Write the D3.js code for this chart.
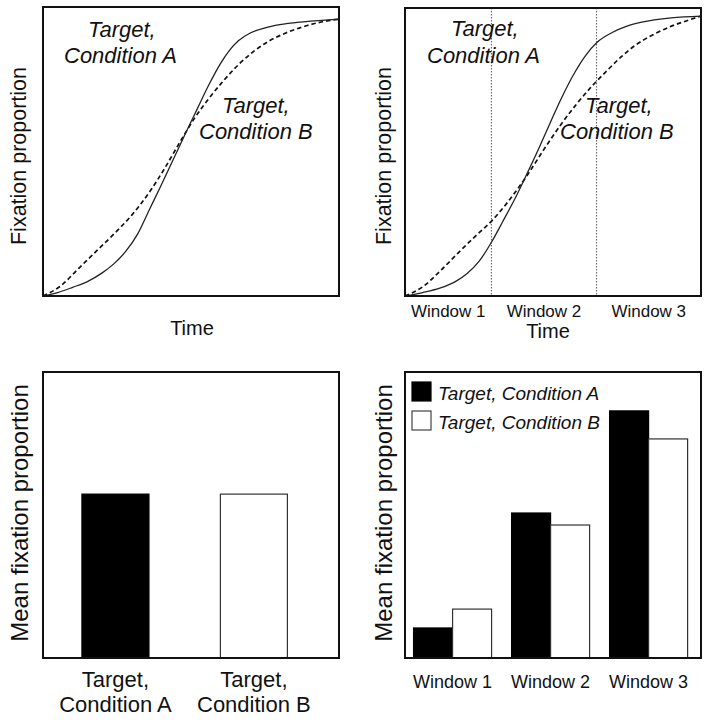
<!DOCTYPE html>
<html>
<head>
<meta charset="utf-8">
<script src="https://cdn.jsdelivr.net/npm/d3@7/dist/d3.min.js"></script>
<style>
  html, body { margin: 0; padding: 0; background: #fff; }
  svg { display: block; }
  text { font-family: "Liberation Sans", Arial, Helvetica, sans-serif; fill: #111; }
</style>
</head>
<body>
<svg id="chart" width="712" height="723"></svg>
<script>
// ---------- DATA ----------
// Top-left panel: fixation proportion over time (time 0..100, proportion 0..1)
const timeA_TL = [0, 5, 10, 15, 20, 24, 28, 32, 36, 40, 44, 48, 52, 56, 60, 63, 66, 70, 75, 80, 87, 93, 100];
const propA_TL = [0, .012, .03, .05, .08, .112, .155, .215, .3, .385, .472, .56, .645, .73, .805, .85, .883, .91, .928, .939, .948, .953, .958];
const timeB_TL = [0, 6, 12, 18, 24, 30, 36, 41, 46, 51, 56, 61, 66, 71, 76, 82, 88, 94, 100];
const propB_TL = [0, .035, .095, .155, .215, .28, .36, .44, .528, .612, .683, .745, .8, .845, .88, .91, .932, .948, .958];

// Top-right panel
const timeA_TR = [0, 6, 12, 17, 21, 25, 29.4, 33, 37, 41, 45, 49, 53, 57, 61, 65, 70, 75, 80, 90, 100];
const propA_TR = [0, .012, .028, .05, .078, .12, .19, .258, .335, .42, .508, .6, .69, .77, .835, .882, .915, .937, .951, .966, .972];
const timeB_TR = [0, 6, 12, 18, 24, 29.4, 35, 41, 47, 53, 58, 63, 68, 73, 78, 84, 90, 95, 100];
const propB_TR = [0, .032, .088, .15, .21, .262, .33, .415, .51, .6, .667, .727, .78, .83, .872, .908, .937, .955, .972];

const windowBounds = [0, 29.2, 64.7, 100];
const windowNames = ["Window 1", "Window 2", "Window 3"];

// Bottom-left panel: overall mean fixation proportion
const conditions = ["Target, Condition A", "Target, Condition B"];
const meanOverall = [0.573, 0.573];

// Bottom-right panel: mean fixation proportion per window
const meanA_windows = [0.105, 0.507, 0.864];
const meanB_windows = [0.171, 0.465, 0.766];

const labelA = ["Target,", "Condition A"];
const labelB = ["Target,", "Condition B"];
const xTitle = "Time";
const yTitleTop = "Fixation proportion";
const yTitleBottom = "Mean fixation proportion";

// ---------- DRAW ----------
const svg = d3.select("#chart");

function frame(x0, y0, x1, y1) {
  svg.append("rect")
    .attr("x", x0).attr("y", y0)
    .attr("width", x1 - x0).attr("height", y1 - y0)
    .attr("fill", "none").attr("stroke", "#111").attr("stroke-width", 2);
}

function yTitle(text, x, y, size) {
  svg.append("text")
    .attr("transform", `translate(${x},${y}) rotate(-90)`)
    .attr("text-anchor", "middle")
    .style("font-size", size + "px")
    .text(text);
}

function lineChart(opts) {
  const x = d3.scaleLinear().domain([0, 100]).range([opts.x0, opts.x1]);
  const y = d3.scaleLinear().domain([0, 1]).range([opts.y1, opts.y0]);
  const line = d3.line().x(d => x(d[0])).y(d => y(d[1])).curve(d3.curveMonotoneX);
  const g = svg.append("g");

  if (opts.windows) {
    g.selectAll("line.win").data(windowBounds.slice(1, -1)).join("line")
      .attr("x1", d => x(d)).attr("x2", d => x(d))
      .attr("y1", opts.y0).attr("y2", opts.y1)
      .attr("stroke", "#666").attr("stroke-width", 1.1)
      .attr("stroke-dasharray", "1.5,1.5");
  }

  g.append("path").datum(opts.tB.map((t, i) => [t, opts.pB[i]]))
    .attr("d", line).attr("fill", "none")
    .attr("stroke", "#111").attr("stroke-width", 1.7)
    .attr("stroke-dasharray", "4.5,3");
  g.append("path").datum(opts.tA.map((t, i) => [t, opts.pA[i]]))
    .attr("d", line).attr("fill", "none")
    .attr("stroke", "#222").attr("stroke-width", 1.3);

  frame(opts.x0, opts.y0, opts.x1, opts.y1);

  // annotations
  const ann = [
    [labelA[0], opts.annA[0], opts.annA[1]],
    [labelA[1], opts.annA[2], opts.annA[3]],
    [labelB[0], opts.annB[0], opts.annB[1]],
    [labelB[1], opts.annB[2], opts.annB[3]]
  ];
  g.selectAll("text.ann").data(ann).join("text")
    .attr("x", d => d[1]).attr("y", d => d[2])
    .style("font-size", "22px").style("font-style", "italic")
    .text(d => d[0]);

  if (opts.windows) {
    g.selectAll("text.wl").data(windowNames).join("text")
      .attr("x", (d, i) => x((windowBounds[i] + windowBounds[i + 1]) / 2))
      .attr("y", 317)
      .attr("text-anchor", "middle")
      .style("font-size", "17px")
      .text(d => d);
  }

  svg.append("text")
    .attr("x", (opts.x0 + opts.x1) / 2 + opts.timeDx)
    .attr("y", opts.timeY)
    .attr("text-anchor", "middle")
    .style("font-size", "20px")
    .text(xTitle);

  yTitle(yTitleTop, opts.yTitleX, 156, 21.5);
}

lineChart({
  x0: 43, x1: 339, y0: 7, y1: 296,
  tA: timeA_TL, pA: propA_TL, tB: timeB_TL, pB: propB_TL,
  annA: [88, 37, 64, 63], annB: [222, 113, 199, 139],
  windows: false, timeY: 335, timeDx: 1, yTitleX: 26
});

lineChart({
  x0: 405, x1: 701, y0: 8, y1: 296,
  tA: timeA_TR, pA: propA_TR, tB: timeB_TR, pB: propB_TR,
  annA: [451, 36, 427, 63], annB: [585, 113, 560, 139],
  windows: true, timeY: 338, timeDx: -5, yTitleX: 391
});

// ---------- Bottom-left bars ----------
{
  const x = d3.scaleBand().domain(conditions).range([43, 339])
    .paddingInner(0.516).paddingOuter(0.327).align(0.43);
  const y = d3.scaleLinear().domain([0, 1]).range([658, 372]);
  const data = conditions.map((c, i) => ({ c, v: meanOverall[i], i }));
  svg.append("g").selectAll("rect").data(data).join("rect")
    .attr("x", d => x(d.c)).attr("width", x.bandwidth())
    .attr("y", d => y(d.v)).attr("height", d => y(0) - y(d.v))
    .attr("fill", d => d.i === 0 ? "#000" : "#fff")
    .attr("stroke", d => d.i === 0 ? "#000" : "#333")
    .attr("stroke-width", 1.2);
  frame(43, 372, 339, 658);

  const lbls = [labelA, labelB];
  const tg = svg.append("g").selectAll("text").data(data).join("text")
    .attr("text-anchor", "middle")
    .style("font-size", "22px");
  tg.append("tspan").attr("x", d => x(d.c) + x.bandwidth() / 2).attr("y", 687)
    .text(d => lbls[d.i][0]);
  tg.append("tspan").attr("x", d => x(d.c) + x.bandwidth() / 2).attr("y", 712)
    .text(d => lbls[d.i][1]);

  yTitle(yTitleBottom, 28, 513, 24);
}

// ---------- Bottom-right grouped bars ----------
{
  const x0 = d3.scaleBand().domain(windowNames).range([405, 701])
    .paddingInner(0.204).paddingOuter(0.112).align(0.39);
  const x1 = d3.scaleBand().domain(conditions).range([0, x0.bandwidth()]);
  const y = d3.scaleLinear().domain([0, 1]).range([658, 372]);
  const rows = [];
  windowNames.forEach((w, i) => {
    rows.push({ w, c: conditions[0], v: meanA_windows[i], k: 0 });
    rows.push({ w, c: conditions[1], v: meanB_windows[i], k: 1 });
  });
  svg.append("g").selectAll("rect").data(rows).join("rect")
    .attr("x", d => x0(d.w) + x1(d.c)).attr("width", x1.bandwidth())
    .attr("y", d => y(d.v)).attr("height", d => y(0) - y(d.v))
    .attr("fill", d => d.k === 0 ? "#000" : "#fff")
    .attr("stroke", d => d.k === 0 ? "#000" : "#333")
    .attr("stroke-width", 1.2);
  frame(405, 372, 701, 658);

  svg.append("g").selectAll("text").data(windowNames).join("text")
    .attr("x", d => x0(d) + x0.bandwidth() / 2)
    .attr("y", 688)
    .attr("text-anchor", "middle")
    .style("font-size", "18px")
    .text(d => d);

  // legend
  const lg = svg.append("g").selectAll("g").data(conditions).join("g")
    .attr("transform", (d, i) => `translate(412,${382 + i * 29})`);
  lg.append("rect").attr("width", 19).attr("height", 19)
    .attr("fill", (d, i) => i === 0 ? "#000" : "#fff")
    .attr("stroke", (d, i) => i === 0 ? "#000" : "#444").attr("stroke-width", 1.2);
  lg.append("text").attr("x", 26).attr("y", 18)
    .style("font-size", "19px").style("font-style", "italic")
    .text(d => d);

  yTitle(yTitleBottom, 392, 513, 24);
}
</script>
</body>
</html>
